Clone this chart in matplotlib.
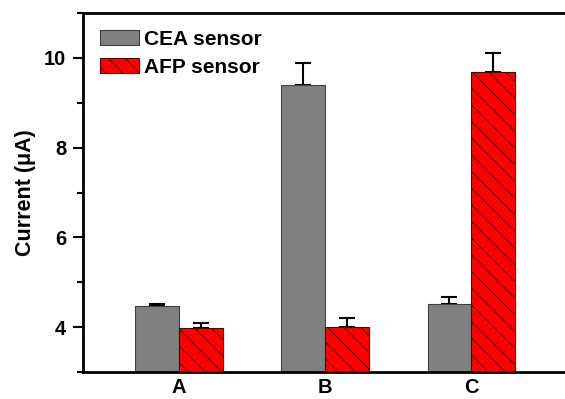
import numpy as np
import matplotlib
matplotlib.use('Agg')
import matplotlib.pyplot as plt
from matplotlib.ticker import MultipleLocator

plt.rcParams['font.family'] = ['Liberation Sans', 'DejaVu Sans']
plt.rcParams['font.weight'] = 'bold'
plt.rcParams['hatch.color'] = '#600000'
plt.rcParams['hatch.linewidth'] = 0.8

categories = ['A', 'B', 'C']
cea = [4.47, 9.39, 4.51]
cea_err = [0.05, 0.5, 0.17]
afp = [3.98, 4.0, 9.68]
afp_err = [0.11, 0.2, 0.42]

fig = plt.figure(figsize=(5.65, 3.99), dpi=100)
# axes run past the right edge, the source picture is cropped there
ax = fig.add_axes([83 / 565, 1 - 372 / 399, 1.05 - 83 / 565, (372 - 13) / 399])

x = np.arange(1, len(categories) + 1)
w = 0.3
ax.bar(x - w / 2, cea, w, color='#808080', edgecolor='#404040', linewidth=0.8,
       label='CEA sensor', zorder=2)
ax.bar(x + w / 2, afp, w, color='#ff0000', edgecolor='#600000', linewidth=0.8,
       hatch='\\\\', label='AFP sensor', zorder=2)
ax.errorbar(x - w / 2, cea, yerr=[np.zeros(3), cea_err], fmt='none', ecolor='black',
            elinewidth=1.5, capsize=6, capthick=1.5, zorder=1)
ax.errorbar(x + w / 2, afp, yerr=[np.zeros(3), afp_err], fmt='none', ecolor='black',
            elinewidth=1.5, capsize=6, capthick=1.5, zorder=1)

ax.set_ylim(3.0, 11.0)
ax.set_xlim(0.345, 3.64 + 0.05 * 565 / 146.5)
ax.yaxis.set_major_locator(MultipleLocator(2))
ax.yaxis.set_minor_locator(MultipleLocator(1))
ax.set_yticks([4, 6, 8, 10])
ax.set_xticks(x)
ax.set_xticklabels(categories, fontsize=14.5, fontweight='bold')
ax.tick_params(axis='y', which='major', length=7, width=1.5, labelsize=14.5, direction='out', pad=5)
ax.tick_params(axis='y', which='minor', length=4, width=1.5, direction='out')
ax.tick_params(axis='x', length=0, pad=4)
for lab in ax.get_yticklabels():
    lab.set_fontweight('bold')
ax.set_ylabel('Current (μA)', fontsize=15.5, fontweight='bold', labelpad=6)

for s in ['left', 'bottom', 'top']:
    ax.spines[s].set_linewidth(2)
ax.spines['right'].set_visible(False)

ax.legend(loc='upper left', frameon=False, handlelength=1.9, handleheight=0.75,
          handletextpad=0.25, labelspacing=0.45, borderaxespad=0.4,
          bbox_to_anchor=(0.0, 1.0), prop={'weight': 'bold', 'size': 15})

fig.savefig('out.png', dpi=100)
